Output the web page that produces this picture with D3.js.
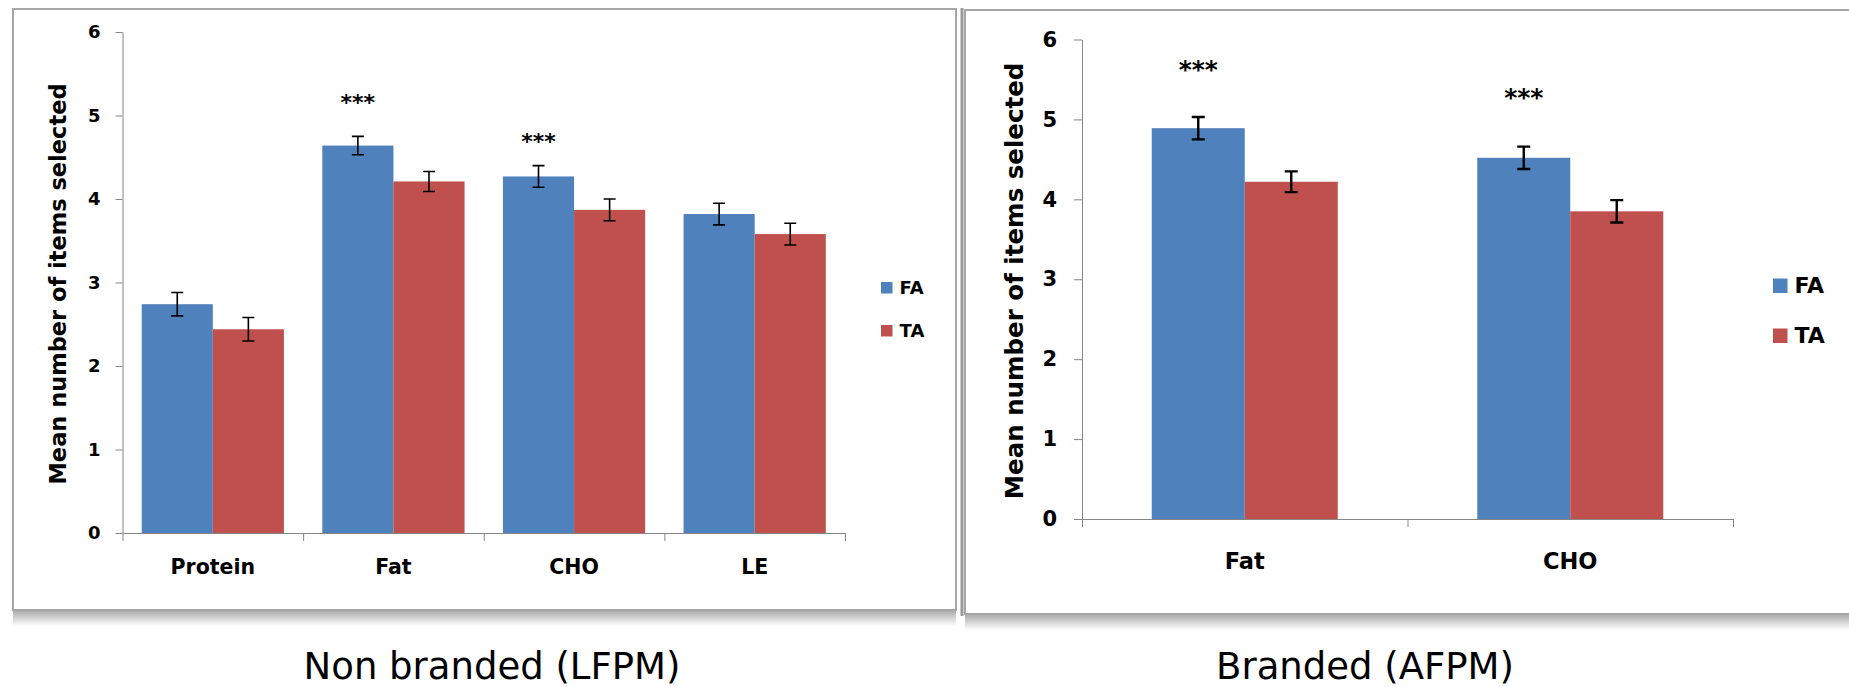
<!DOCTYPE html>
<html>
<head>
<meta charset="utf-8">
<script src="https://cdn.jsdelivr.net/npm/d3@7"></script>
<style>
  body { margin: 0; background: #fff; }
  svg { display: block; }
  text { fill: #000; }
</style>
</head>
<body>
<div class="chart"></div>
<script>
var width = 1849;
var height = 687;

// data
var series = ["FA", "TA"];
var yTicks = [0, 1, 2, 3, 4, 5, 6];

var leftCategories = ["Protein", "Fat", "CHO", "LE"];
var leftFA = [2.74, 4.64, 4.27, 3.82];
var leftTA = [2.44, 4.21, 3.87, 3.58];
var leftFAErr = [0.14, 0.11, 0.13, 0.13];
var leftTAErr = [0.14, 0.12, 0.13, 0.13];
var leftStars = ["", "***", "***", ""];
var leftStarLevel = [0, 5.21, 4.74, 0];

var rightCategories = ["Fat", "CHO"];
var rightFA = [4.89, 4.52];
var rightTA = [4.22, 3.85];
var rightFAErr = [0.14, 0.14];
var rightTAErr = [0.13, 0.14];
var rightStars = ["***", "***"];
var rightStarLevel = [5.69, 5.34];

var captions = ["Non branded (LFPM)", "Branded (AFPM)"];
var yLabel = "Mean number of items selected";

var colors = { FA: "#4F81BD", TA: "#C0504D" };
var font = "'DejaVu Sans', Verdana, sans-serif";

var svg = d3
  .select(".chart")
  .append("svg")
  .attr("width", width)
  .attr("height", height);

// shadow gradient under the panels
var defs = svg.append("defs");
var grad = defs
  .append("linearGradient")
  .attr("id", "shadow")
  .attr("x1", 0).attr("y1", 0).attr("x2", 0).attr("y2", 1);
grad.append("stop").attr("offset", "0%").attr("stop-color", "#a8a8a8");
grad.append("stop").attr("offset", "100%").attr("stop-color", "#ffffff");

function drawFrame(x, y, w, h) {
  svg.append("rect")
    .attr("x", x).attr("y", y + h)
    .attr("width", w).attr("height", 16)
    .attr("fill", "url(#shadow)");
  svg.append("rect")
    .attr("x", x).attr("y", y)
    .attr("width", w).attr("height", h)
    .attr("fill", "#fff")
    .attr("stroke", "#a6a6a6")
    .attr("stroke-width", 2);
}

drawFrame(13, 9, 943, 601);
drawFrame(965, 10, 900, 604);
svg.append("line")
  .attr("x1", 962).attr("x2", 962).attr("y1", 8).attr("y2", 616)
  .attr("stroke", "#9a9a9a").attr("stroke-width", 3);

function drawPanel(o) {
  var g = svg.append("g");
  var rows = o.categories.map((c, i) => ({
    cat: c,
    FA: o.fa[i], TA: o.ta[i],
    FAErr: o.faErr[i], TAErr: o.taErr[i],
    star: o.stars[i], starLevel: o.starLevel[i]
  }));

  var x = d3.scaleBand().domain(o.categories).range(o.xRange).paddingInner(0).paddingOuter(0);
  var xs = d3.scaleBand().domain(series).range([0, x.bandwidth()]).paddingInner(0).paddingOuter(o.groupPad);
  var y = d3.scaleLinear().domain([0, 6]).range(o.yRange);

  // bars
  var groups = g.selectAll(".grp")
    .data(rows)
    .enter()
    .append("g")
    .attr("transform", (d) => `translate(${x(d.cat)},0)`);

  series.forEach(function (s) {
    groups.append("rect")
      .attr("x", xs(s))
      .attr("y", (d) => y(d[s]))
      .attr("width", xs.bandwidth())
      .attr("height", (d) => y(0) - y(d[s]))
      .attr("fill", colors[s]);

    // error bars
    var cx = xs(s) + xs.bandwidth() / 2;
    groups.append("path")
      .attr("d", (d) => {
        var t = y(d[s] + d[s + "Err"]), b = y(d[s] - d[s + "Err"]), c = o.cap;
        return `M${cx},${t}V${b}M${cx - c},${t}H${cx + c}M${cx - c},${b}H${cx + c}`;
      })
      .attr("stroke", "#000")
      .attr("stroke-width", o.errWidth)
      .attr("fill", "none");
  });

  // significance stars
  groups.filter((d) => d.star)
    .append("text")
    .attr("x", xs("FA") + xs.bandwidth() / 2)
    .attr("y", (d) => y(d.starLevel) + o.starSize * 0.55)
    .attr("text-anchor", "middle")
    .style("font-family", font)
    .style("font-weight", "bold")
    .style("font-size", o.starSize + "px")
    .text((d) => d.star);

  // y axis
  var yAxis = d3.axisLeft(y).tickValues(yTicks).tickFormat(d3.format("d"))
    .tickSize(o.yTick).tickSizeOuter(0).tickPadding(o.yPad);
  var ya = g.append("g").attr("transform", `translate(${o.xRange[0]},0)`).call(yAxis);
  ya.selectAll("line, path").attr("stroke", "#868686");
  ya.selectAll("text")
    .style("font-family", font)
    .style("font-weight", "bold")
    .style("font-size", o.tickSize + "px")
    .attr("fill", "#000");

  // x axis: line with ticks on the band edges
  var edges = d3.scaleLinear().domain([0, o.categories.length]).range(o.xRange);
  var xEdge = d3.axisBottom(edges).tickValues(d3.range(o.categories.length + 1))
    .tickFormat("").tickSize(8).tickSizeOuter(0);
  var xa = g.append("g").attr("transform", `translate(0,${y(0)})`).call(xEdge);
  xa.selectAll("line, path").attr("stroke", "#868686");

  var xLab = d3.axisBottom(x).tickSize(0).tickPadding(o.xPad);
  var xl = g.append("g").attr("transform", `translate(0,${y(0)})`).call(xLab);
  xl.select(".domain").remove();
  xl.selectAll("text")
    .style("font-family", font)
    .style("font-weight", "bold")
    .style("font-size", o.catSize + "px")
    .attr("fill", "#000");

  // y label
  g.append("text")
    .attr("transform", `translate(${o.labelX},${o.labelY}) rotate(-90)`)
    .attr("text-anchor", "middle")
    .style("font-family", font)
    .style("font-weight", "bold")
    .style("font-size", o.labelSize + "px")
    .text(yLabel);

  // legend
  series.forEach(function (s, i) {
    var ly = o.legendY + i * o.legendGap;
    g.append("rect")
      .attr("x", o.legendX).attr("y", ly)
      .attr("width", o.legendBox).attr("height", o.legendBox)
      .attr("fill", colors[s]);
    g.append("text")
      .attr("x", o.legendX + o.legendBox + 7)
      .attr("y", ly + o.legendBox)
      .style("font-family", font)
      .style("font-weight", "bold")
      .style("font-size", o.legendSize + "px")
      .text(s);
  });

  // caption
  svg.append("text")
    .attr("x", o.captionX)
    .attr("y", 679)
    .attr("text-anchor", "middle")
    .style("font-family", font)
    .style("font-size", "37px")
    .text(o.caption);
}

drawPanel({
  categories: leftCategories, fa: leftFA, ta: leftTA,
  faErr: leftFAErr, taErr: leftTAErr, stars: leftStars, starLevel: leftStarLevel,
  xRange: [122.5, 845], yRange: [533, 32], groupPad: 0.27,
  cap: 6, errWidth: 1.6, starSize: 22,
  yTick: 7, yPad: 15, tickSize: 18,
  xPad: 26, catSize: 20.5,
  labelX: 66, labelY: 284, labelSize: 22.5,
  legendX: 881, legendY: 282, legendGap: 43, legendBox: 11.5, legendSize: 18,
  captionX: 492, caption: captions[0]
});

drawPanel({
  categories: rightCategories, fa: rightFA, ta: rightTA,
  faErr: rightFAErr, taErr: rightTAErr, stars: rightStars, starLevel: rightStarLevel,
  xRange: [1082, 1733], yRange: [519, 39.5], groupPad: 0.75,
  cap: 6.5, errWidth: 2.4, starSize: 25,
  yTick: 8, yPad: 17, tickSize: 21,
  xPad: 34, catSize: 22.5,
  labelX: 1023, labelY: 281, labelSize: 24.5,
  legendX: 1773, legendY: 278.5, legendGap: 50, legendBox: 14.5, legendSize: 22,
  captionX: 1365, caption: captions[1]
});
</script>
</body>
</html>
